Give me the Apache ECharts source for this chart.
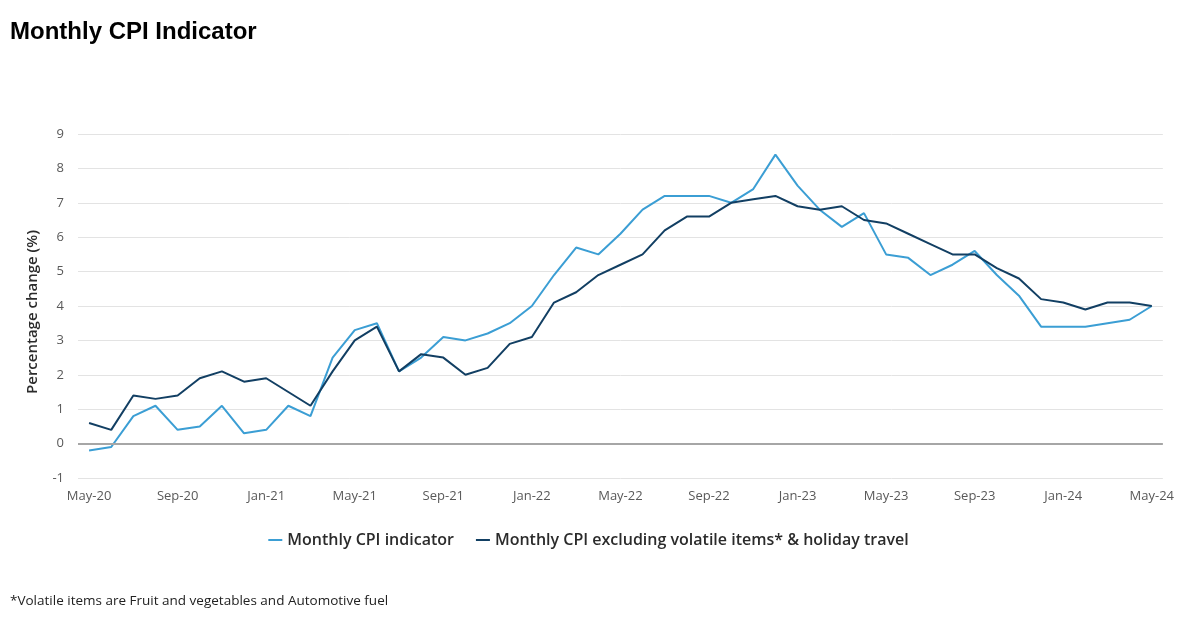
<!DOCTYPE html>
<html>
<head>
<meta charset="utf-8">
<script src="https://cdn.jsdelivr.net/npm/echarts@6/dist/echarts.min.js"></script>
<style>
html,body{margin:0;padding:0;background:#fff;}
#chart{width:1177px;height:618px;}
</style>
</head>
<body>
<div id="chart"></div>
<script>
const categories = ['May-20','Jun-20','Jul-20','Aug-20','Sep-20','Oct-20','Nov-20','Dec-20',
  'Jan-21','Feb-21','Mar-21','Apr-21','May-21','Jun-21','Jul-21','Aug-21','Sep-21','Oct-21','Nov-21','Dec-21',
  'Jan-22','Feb-22','Mar-22','Apr-22','May-22','Jun-22','Jul-22','Aug-22','Sep-22','Oct-22','Nov-22','Dec-22',
  'Jan-23','Feb-23','Mar-23','Apr-23','May-23','Jun-23','Jul-23','Aug-23','Sep-23','Oct-23','Nov-23','Dec-23',
  'Jan-24','Feb-24','Mar-24','Apr-24','May-24'];
const cpiIndicator = [-0.2,-0.1,0.8,1.1,0.4,0.5,1.1,0.3,
  0.4,1.1,0.8,2.5,3.3,3.5,2.1,2.5,3.1,3.0,3.2,3.5,
  4.0,4.9,5.7,5.5,6.1,6.8,7.2,7.2,7.2,7.0,7.4,8.4,
  7.5,6.8,6.3,6.7,5.5,5.4,4.9,5.2,5.6,4.9,4.3,3.4,
  3.4,3.4,3.5,3.6,4.0];
const cpiExVolatile = [0.6,0.4,1.4,1.3,1.4,1.9,2.1,1.8,
  1.9,1.5,1.1,2.1,3.0,3.4,2.1,2.6,2.5,2.0,2.2,2.9,
  3.1,4.1,4.4,4.9,5.2,5.5,6.2,6.6,6.6,7.0,7.1,7.2,
  6.9,6.8,6.9,6.5,6.4,6.1,5.8,5.5,5.5,5.1,4.8,4.2,
  4.1,3.9,4.1,4.1,4.0];
const yTicks = {min:-1, max:9, interval:1};

const chart = echarts.init(document.getElementById('chart'), null, {renderer:'canvas'});
const font = '"Open Sans", "Noto Sans", sans-serif';
chart.setOption({
  backgroundColor:'#fff',
  animation:false,
  title:[
    {text:'Monthly CPI Indicator', left:5, top:15,
     textStyle:{fontFamily:'"Liberation Sans", Arial, sans-serif', fontSize:24, fontWeight:'bold', color:'#000'}},
    {text:'*Volatile items are Fruit and vegetables and Automotive fuel', left:5, top:589,
     textStyle:{fontFamily:font, fontSize:13.5, fontWeight:'normal', color:'#222'}}
  ],
  legend:{
    bottom:65, left:'center', itemGap:22, itemWidth:14, itemHeight:2, icon:'rect',
    textStyle:{fontFamily:font, fontSize:16, fontWeight:600, color:'#2b2b2b'},
    data:['Monthly CPI indicator','Monthly CPI excluding volatile items* & holiday travel']
  },
  grid:{left:78, right:11, top:134, bottom:140},
  xAxis:{
    type:'category', data:categories, boundaryGap:true,
    axisLine:{show:false}, axisTick:{show:false},
    axisLabel:{interval:3, color:'#595959', fontFamily:font, fontSize:13, margin:12},
    splitLine:{show:false}
  },
  yAxis:{
    type:'value', min:yTicks.min, max:yTicks.max, interval:yTicks.interval,
    name:'Percentage change (%)', nameLocation:'middle', nameGap:38,
    nameTextStyle:{fontFamily:font, fontSize:15, fontWeight:600, color:'#2b2b2b', padding:[0,12,0,0]},
    axisLine:{show:false}, axisTick:{show:false},
    axisLabel:{color:'#595959', fontFamily:font, fontSize:13, margin:14},
    splitLine:{lineStyle:{color:'#e3e3e3', width:1}}
  },
  series:[
    {name:'Monthly CPI indicator', type:'line', data:cpiIndicator, symbol:'none',
     lineStyle:{color:'#3b9ed4', width:2}, itemStyle:{color:'#3b9ed4'},
     markLine:{silent:true, symbol:'none', label:{show:false},
       lineStyle:{color:'#a6a6a6', width:2, type:'solid'}, data:[{yAxis:0}]}},
    {name:'Monthly CPI excluding volatile items* & holiday travel', type:'line', data:cpiExVolatile, symbol:'none',
     lineStyle:{color:'#123f63', width:2}, itemStyle:{color:'#123f63'}, z:3}
  ]
});
</script>
</body>
</html>
